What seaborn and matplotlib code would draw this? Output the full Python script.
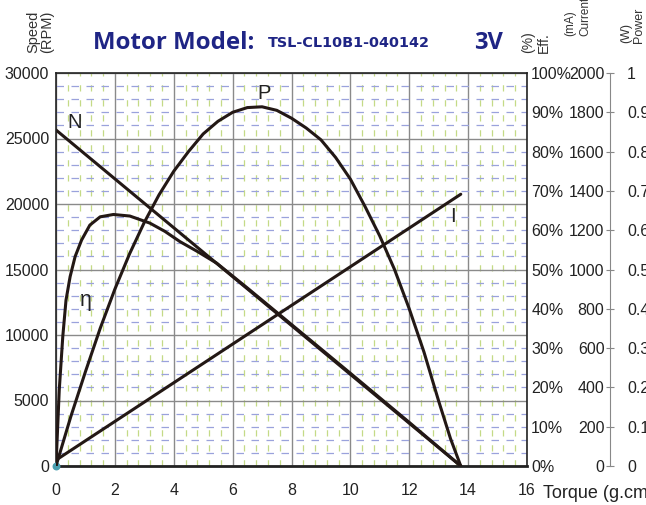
import matplotlib
matplotlib.use("Agg")
import matplotlib.pyplot as plt
import numpy as np
import pandas as pd
import seaborn as sns

# values
torque_n = [0, 13.75]
speed = [25650, 0]

torque_i = [0, 13.75]
current = [30, 1383]

torque_eff = [0, 0.11, 0.23, 0.34, 0.48, 0.65, 0.87, 1.15, 1.5, 1.95, 2.51, 3.19,
              3.7, 4.21, 4.8, 5.46, 6.5, 8, 10, 12, 13.75]
eff = [0, 19.3, 32.9, 42.2, 48.2, 53.3, 57.5, 61.3, 63.4, 64.0, 63.6, 61.8,
       59.7, 57.1, 54.6, 51.6, 45.3, 36.0, 23.6, 11.1, 0]

torque_p = [0, 0.5, 1.0, 1.5, 2.0, 2.5, 3.0, 3.5, 4.0, 4.5, 5.0, 5.5, 6.0, 6.5, 7.0,
            7.5, 8.0, 8.5, 9.0, 9.5, 10.0, 10.5, 11.0, 11.5, 12.0, 12.5, 13.0, 13.4, 13.75]
power = [0, 0.125, 0.24, 0.35, 0.45, 0.54, 0.62, 0.69, 0.75, 0.80, 0.845, 0.877, 0.90,
         0.912, 0.914, 0.905, 0.885, 0.86, 0.83, 0.785, 0.73, 0.66, 0.585, 0.50, 0.40,
         0.29, 0.165, 0.07, 0]

x_ticks = [0, 2, 4, 6, 8, 10, 12, 14, 16]
speed_ticks = [0, 5000, 10000, 15000, 20000, 25000, 30000]
eff_ticks = [0, 10, 20, 30, 40, 50, 60, 70, 80, 90, 100]
cur_ticks = [0, 200, 400, 600, 800, 1000, 1200, 1400, 1600, 1800, 2000]
pow_ticks = [0, 0.1, 0.2, 0.3, 0.4, 0.5, 0.6, 0.7, 0.8, 0.9, 1]
pow_labels = ["0", "0.1", "0.2", "0.3", "0.4", "0.5", "0.6", "0.7", "0.8", "0.9", "1"]

sns.set_style("white")
plt.rcParams['font.family'] = ['Liberation Sans', 'DejaVu Sans']

line_col = "#231815"
navy = "#1f2585"
lw = 2.2

fig = plt.figure(figsize=(6.46, 5.05), dpi=100)
ax = fig.add_axes([56/646, 39/505, 471/646, 393/505])

# grid
ax.set_xlim(0, 16)
ax.set_ylim(0, 30000)
ax.set_xticks(x_ticks)
ax.set_xticks(np.arange(0, 16.01, 0.4), minor=True)
ax.set_yticks(speed_ticks)
ax.set_yticks(np.arange(0, 30001, 1000), minor=True)
ax.grid(which='major', color="#8a8a8a", linewidth=1.0, linestyle='-')
ax.grid(which='minor', axis='x', color="#c4da86", linewidth=0.9, linestyle=(0, (5, 7)))
ax.grid(which='minor', axis='y', color="#9aa2dc", linewidth=0.9, linestyle=(0, (6, 6)))
ax.tick_params(which='both', length=0)
ax.tick_params(axis='both', labelsize=11.5, colors="#222222")
ax.tick_params(axis='x', pad=12)
ax.tick_params(axis='y', pad=5)
for s in ax.spines.values():
    s.set_color("#222222")
    s.set_linewidth(1.2)
    s.set_visible(True)
ax.spines['bottom'].set_linewidth(2.0)
ax.set_axisbelow(True)

sns.lineplot(x=torque_n, y=speed, ax=ax, color=line_col, linewidth=lw)

# efficiency axis
ax_eff = ax.twinx()
ax_eff.set_ylim(0, 100)
ax_eff.set_yticks(eff_ticks)
ax_eff.set_yticklabels([f"{v}%" for v in eff_ticks])
ax_eff.tick_params(length=0, pad=3, labelsize=11.5, colors="#222222")
for s in ax_eff.spines.values():
    s.set_visible(False)
sns.lineplot(x=torque_eff, y=eff, ax=ax_eff, color=line_col, linewidth=lw)

# current axis
ax_cur = ax.twinx()
ax_cur.set_ylim(0, 2000)
ax_cur.set_yticks(cur_ticks)
for s in ax_cur.spines.values():
    s.set_visible(False)
ax_cur.spines['left'].set_visible(True)
ax_cur.spines['left'].set_position(('axes', (610 - 56) / 471))
ax_cur.spines['left'].set_color("#888888")
ax_cur.spines['left'].set_bounds(0, 2000)
ax_cur.yaxis.set_ticks_position('left')
ax_cur.tick_params(direction='inout', length=6, width=0.8, color="#888888",
                   pad=1, labelsize=11.5, labelcolor="#222222")
sns.lineplot(x=torque_i, y=current, ax=ax_cur, color=line_col, linewidth=lw)

# power axis
ax_pow = ax.twinx()
ax_pow.set_ylim(0, 1)
ax_pow.set_yticks(pow_ticks)
ax_pow.set_yticklabels(pow_labels)
ax_pow.tick_params(length=0, pad=72, labelsize=11.5, colors="#222222")
for s in ax_pow.spines.values():
    s.set_visible(False)
sns.lineplot(x=torque_p, y=power, ax=ax_pow, color=line_col, linewidth=lw)

ax.scatter([torque_n[0]], [0], s=22, color="#4a9fb0", zorder=5, clip_on=False)

# curve labels
ax.text(0.38, 25800, "N", fontsize=14.5, color="#222222")
ax.text(6.85, 28000, "P", fontsize=14.5, color="#222222")
ax.text(13.4, 18600, "I", fontsize=14.5, color="#222222")
ax.text(0.82, 12250, "η", fontsize=15.5, color="#222222")

ax.set_xlabel("")
ax.set_ylabel("")
ax_eff.set_ylabel("")
ax_cur.set_ylabel("")
ax_pow.set_ylabel("")

# header texts
fig.text(93/646, 1 - 43/505, "Motor Model:", fontsize=17.3, fontweight='bold',
         color=navy, family=['Open Sans', 'DejaVu Sans'], va='center', ha='left')
fig.text(268/646, 1 - 43/505, "TSL-CL10B1-040142", fontsize=10.4, fontweight='bold',
         color=navy, family=['DejaVu Sans'], va='center', ha='left')
fig.text(474/646, 1 - 43/505, "3V", fontsize=17, fontweight='bold',
         color=navy, family=['Open Sans', 'DejaVu Sans'], va='center', ha='left')

fig.text(40/646, 1 - 53/505, "Speed\n(RPM)", rotation=90, fontsize=10.5,
         color="#333333", ha='center', va='bottom', ma='left', linespacing=1.0)
fig.text(536/646, 1 - 53/505, "(%)\nEff.", rotation=90, fontsize=10,
         color="#333333", ha='center', va='bottom', ma='left', linespacing=1.2)
fig.text(578/646, 1 - 36/505, "(mA)\nCurrent", rotation=90, fontsize=8.5,
         color="#333333", ha='center', va='bottom', ma='left', linespacing=1.3)
fig.text(633/646, 1 - 43/505, "(W)\nPower", rotation=90, fontsize=9,
         color="#333333", ha='center', va='bottom', ma='left', linespacing=1.1)

fig.text(543/646, 1 - 494/505, "Torque (g.cm)", fontsize=13, color="#222222",
         ha='left', va='center')

fig.savefig("out.png", dpi=100)
